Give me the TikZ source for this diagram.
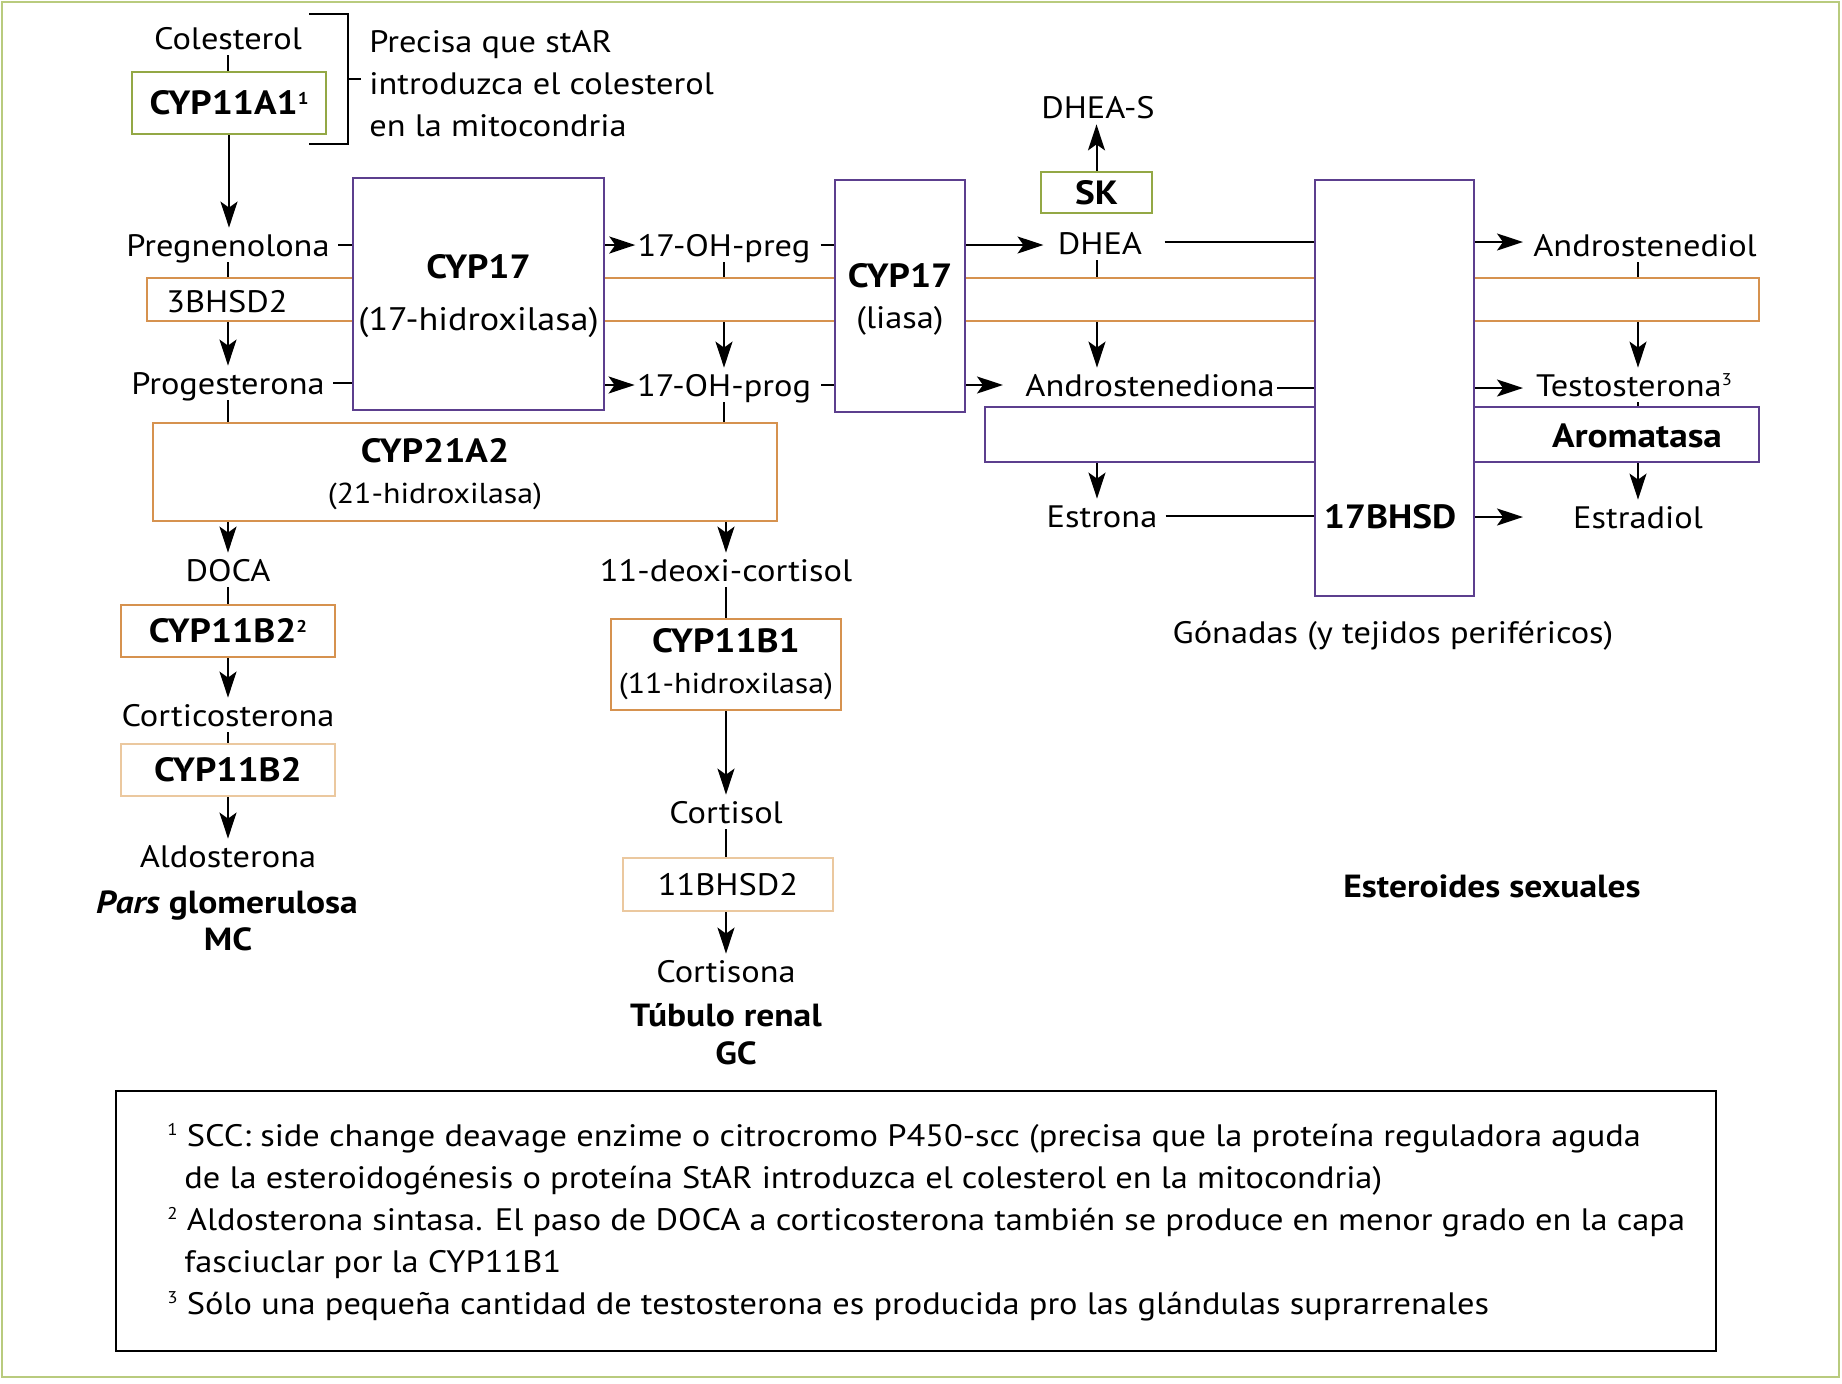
\documentclass[tikz,border=0pt]{standalone}
\usepackage{fontspec}
\setmainfont{PT Sans}[FakeStretch=1.11]
\usetikzlibrary{arrows.meta,calc}
\definecolor{cOra}{HTML}{D6924F}
\definecolor{cPea}{HTML}{EBC89F}
\definecolor{cPur}{HTML}{5C3F8E}
\definecolor{cGrn}{HTML}{93A845}
\definecolor{cOut}{HTML}{B9CB7E}
\newcommand\fsz{\fontsize{15.5pt}{21pt}\selectfont}
\newcommand\fsb{\fontsize{16pt}{21pt}\selectfont\bfseries}
\newcommand\fst{\fontsize{16.8pt}{21pt}\selectfont\bfseries}
\newcommand\sups[1]{\raisebox{5.2pt}{\fontsize{8.5pt}{8.5pt}\selectfont #1}}
\begin{document}
\begin{tikzpicture}[x=0.5pt,y=-0.5pt,
  T/.style={font=\fsz, inner sep=1pt, text height=13pt, text depth=2pt},
  TB/.style={T, font=\fsb},
  TT/.style={T, font=\fst},
  M/.style={font=\fsz, inner sep=0pt},
  bx/.style={draw, fill=white, line width=1.1pt, inner sep=0pt, font=\fsz, align=center},
  ora/.style={bx, draw=cOra},
  pea/.style={bx, draw=cPea},
  pur/.style={bx, draw=cPur},
  grn/.style={bx, draw=cGrn},
  ln/.style={line width=1pt},
  ar/.style={ln, -{Stealth[length=13pt,width=8.5pt,inset=3pt]}}]
\useasboundingbox (0,0) rectangle (1842,1383);
\draw[cOut, line width=1pt] (1.5,1.5) rectangle (1839,1377);
\coordinate (colD) at (1097,0);
\coordinate (colR) at (1638,0);
\coordinate (tipR) at (1523,0);

% ---------- top left ----------
\node[T] (col) at (228,38) {Colesterol};
\node[grn, minimum width=97pt, minimum height=31pt, font=\fst] (c11a1) at (229,103) {CYP11A1\sups{1}};
\draw[ln] (col.south) -- (col.south |- c11a1.north);
\coordinate (brT) at (309,14);
\coordinate (brB) at (309,144);
\draw[ln] (brT) -- (348,14) -- (348,144) -- (brB);
\draw[ln] (348,79) -- (361,79);
\node[M, anchor=west, align=left] (note) at (369,84) {Precisa que stAR\\introduzca el colesterol\\en la mitocondria};

% ---------- bands ----------
\node[ora, minimum width=806pt, minimum height=21.5pt] (band) at (953,299.5) {};
\node[pur, minimum width=387pt, minimum height=27.5pt] (arom) at (1372,434.5) {};
\node[TT] (aromt) at (1637,436) {Aromatasa};
\node[T] (t3b) at (227,301) {3BHSD2};

% ---------- CYP17 boxes ----------
\node[pur, minimum width=125.5pt, minimum height=116pt] (c17a) at (478.5,294) {};
\node[M, align=center, font=\fontsize{16.3pt}{26pt}\selectfont] (c17at) at (478.5,296) {{\fst CYP17}\\(17-hidroxilasa)};
\node[pur, minimum width=65pt, minimum height=116pt] (lia) at (900,296) {};
\node[M, align=center, font=\fontsize{15.5pt}{20.5pt}\selectfont] (liat) at (900,299) {{\fst CYP17}\\(liasa)};
\node[pur, minimum width=79.5pt, minimum height=208pt] (b17) at (1394.5,388) {};
\node[TT] (b17t) at (1390,517) {17BHSD};

% ---------- left column ----------
\node[T] (preg) at (228,245) {Pregnenolona};
\node[T] (prog) at (228,383) {Progesterona};
\draw[ar] (c11a1.south) -- (c11a1.south |- preg.north);
\draw[ln, shorten <=3pt] (preg.east) -- (c17a.west |- preg.east);
\draw[ln] (preg.south) -- (preg.south |- band.north);
\draw[ar] (preg.south |- band.south) -- (prog.north);
\draw[ln, shorten <=3pt] (prog.east) -- (c17a.west |- prog.east);

\node[T] (ohpreg) at (724,245) {17-OH-preg};
\node[T] (ohprog) at (724,385) {17-OH-prog};
\draw[ar] (c17a.east |- ohpreg) -- (ohpreg.west);
\draw[ar] (c17a.east |- ohprog) -- (ohprog.west);
\draw[ln, shorten <=4pt] (ohpreg.east) -- (lia.west |- ohpreg.east);
\draw[ln, shorten <=4pt] (ohprog.east) -- (lia.west |- ohprog.east);
\draw[ln] (ohpreg.south) -- (ohpreg.south |- band.north);
\draw[ar] (ohpreg.south |- band.south) -- (ohprog.north);

\node[ora, minimum width=312pt, minimum height=49pt] (c21) at (465,472) {};
\node[M, align=center, font=\fontsize{14.4pt}{20.5pt}\selectfont] (c21t) at (435,474) {{\fst CYP21A2}\\(21-hidroxilasa)};
\draw[ln] (prog.south) -- (prog.south |- c21.north);
\draw[ln] (ohprog.south) -- (ohprog.south |- c21.north);

\node[T] (doca) at (228,570) {DOCA};
\node[T] (deoxi) at (726,570) {11-deoxi-cortisol};
\draw[ar] (doca |- c21.south) -- (doca.north);
\draw[ar] (deoxi |- c21.south) -- (deoxi.north);

\node[ora, minimum width=107pt, minimum height=26pt, font=\fst] (b2a) at (228,631) {CYP11B2\sups{2}};
\node[T] (cortico) at (228,715) {Corticosterona};
\node[pea, minimum width=107pt, minimum height=26pt, font=\fst] (b2b) at (228,770) {CYP11B2};
\node[T] (aldo) at (228,856) {Aldosterona};
\node[TB] (pars) at (227,902) {\textit{Pars} glomerulosa};
\node[TB] (mc) at (228,939) {MC};
\draw[ln] (doca.south) -- (doca.south |- b2a.north);
\draw[ar] (b2a.south) -- (b2a.south |- cortico.north);
\draw[ln] (cortico.south) -- (cortico.south |- b2b.north);
\draw[ar] (b2b.south) -- (b2b.south |- aldo.north);

\node[ora, minimum width=115pt, minimum height=45.5pt, font=\fontsize{14.4pt}{20.5pt}\selectfont] (b1) at (726,664.5) {{\fst CYP11B1}\\(11-hidroxilasa)};
\node[T] (cortisol) at (726,812) {Cortisol};
\node[pea, minimum width=105pt, minimum height=26.5pt] (hsd2) at (728,884.5) {11BHSD2};
\node[T] (cortisona) at (726,971) {Cortisona};
\node[TB] (tub) at (726,1015) {Túbulo renal};
\node[TB] (gc) at (736,1053) {GC};
\draw[ln] (deoxi.south) -- (deoxi.south |- b1.north);
\draw[ar] (b1.south) -- (b1.south |- cortisol.north);
\draw[ln] (cortisol.south) -- (cortisol.south |- hsd2.north);
\draw[ar] (cortisol.south |- hsd2.south) -- (cortisona.north);

% ---------- right part ----------
\node[T] (dheas) at (1098,107) {DHEA-S};
\node[grn, minimum width=55.5pt, minimum height=20.5pt, font=\fst] (sk) at (1096.5,192.5) {SK};
\node[T] (dhea) at (1100,243) {DHEA};
\node[T] (andione) at (1150,385) {Androstenediona};
\node[T] (estrona) at (1102,516) {Estrona};
\draw[ar] (sk.north) -- (sk.north |- dheas.south);
\draw[ar, shorten >=6pt] (lia.east |- 0,245) -- (dhea.west |- 0,245);
\draw[ln, shorten <=10pt] (dhea.east |- 0,242) -- (b17.west |- 0,242);
\draw[ln] (colD |- dhea.south) -- (colD |- band.north);
\draw[ar] (colD |- band.south) -- (colD |- andione.north);
\draw[ar, shorten >=10pt] (lia.east |- andione) -- (andione.west);
\draw[ln] (andione.east |- 0,388) -- (b17.west |- 0,388);
\draw[ar] (colD |- arom.south) -- (colD |- estrona.north);
\draw[ln, shorten <=3pt] (estrona.east) -- (b17.west |- estrona.east);

\node[T] (andiol) at (1645,245) {Androstenediol};
\node[T] (testo) at (1634,385) {Testosterona\sups{3}};
\node[T] (estradiol) at (1638,517) {Estradiol};
\draw[ar] (b17.east |- 0,242) -- (tipR |- 0,242);
\draw[ar] (b17.east |- 0,388) -- (tipR |- 0,388);
\draw[ar] (b17.east |- estradiol) -- (tipR |- estradiol);
\draw[ln] (colR |- andiol.south) -- (colR |- band.north);
\draw[ar] (colR |- band.south) -- (colR |- testo.north);
\draw[ln] (colR |- testo.south) -- (colR |- arom.north);
\draw[ar] (colR |- arom.south) -- (colR |- estradiol.north);

\node[T] (gon) at (1393,632) {Gónadas (y tejidos periféricos)};
\node[TB] (est) at (1492,886) {Esteroides sexuales};

% ---------- footnotes ----------
\node[draw, line width=1.2pt, minimum width=800pt, minimum height=130pt] (fn) at (916,1221) {};
\node[M, anchor=base west] (f1) at (167,1146) {\sups{1} SCC: side change deavage enzime o citrocromo P450-scc (precisa que la proteína reguladora aguda};
\node[M, anchor=base west] (f2) at (184,1188) {de la esteroidogénesis o proteína StAR introduzca el colesterol en la mitocondria)};
\node[M, anchor=base west] (f3) at (167,1230) {\sups{2} Aldosterona sintasa. El paso de DOCA a corticosterona también se produce en menor grado en la capa};
\node[M, anchor=base west] (f4) at (184,1272) {fasciuclar por la CYP11B1};
\node[M, anchor=base west] (f5) at (167,1314) {\sups{3} Sólo una pequeña cantidad de testosterona es producida pro las glándulas suprarrenales};
\end{tikzpicture}
\end{document}
